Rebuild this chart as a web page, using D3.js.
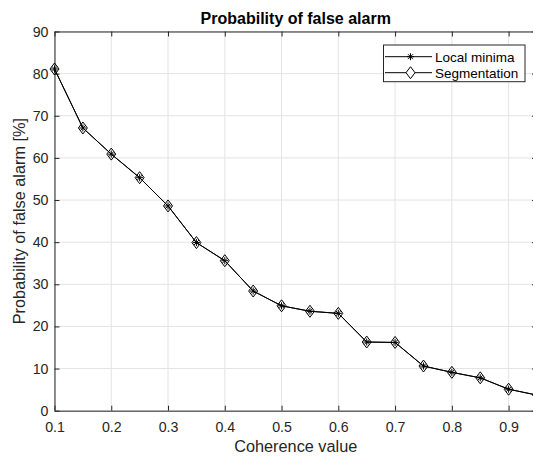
<!DOCTYPE html>
<html>
<head>
<meta charset="utf-8">
<script src="https://cdn.jsdelivr.net/npm/d3@7"></script>
<style>
  body { margin: 0; background: #fff; }
  svg { font-family: "Liberation Sans", Arial, sans-serif; }
</style>
</head>
<body>
<div id="chart"></div>
<script>
const coherence = [0.1, 0.15, 0.2, 0.25, 0.3, 0.35, 0.4, 0.45, 0.5, 0.55, 0.6, 0.65, 0.7, 0.75, 0.8, 0.85, 0.9, 0.95];
const localMinima = [81.1, 67.1, 60.9, 55.3, 48.6, 39.9, 35.6, 28.4, 24.9, 23.6, 23.1, 16.3, 16.2, 10.6, 9.1, 7.8, 5.1, 3.7];
const segmentation = [81.1, 67.1, 60.9, 55.3, 48.6, 39.9, 35.6, 28.4, 24.9, 23.6, 23.1, 16.3, 16.2, 10.6, 9.1, 7.8, 5.1, 3.7];
const xTicks = [0.1, 0.2, 0.3, 0.4, 0.5, 0.6, 0.7, 0.8, 0.9];
const yTicks = [0, 10, 20, 30, 40, 50, 60, 70, 80, 90];
const seriesNames = ["Local minima", "Segmentation"];

const width = 533, height = 457;
const margin = { top: 31.5, left: 54.5, right: -4, bottom: 46.3 };
const innerW = width - margin.left - margin.right;
const innerH = height - margin.top - margin.bottom;
const axisColor = "#262626";

const svg = d3.select("#chart").append("svg")
    .attr("width", width)
    .attr("height", height);

const g = svg.append("g")
    .attr("transform", "translate(" + margin.left + "," + margin.top + ")");

const xScale = d3.scaleLinear().domain([0.1, 0.95]).range([0, innerW]);
const yScale = d3.scaleLinear().domain([0, 90]).range([innerH, 0]);

// grid
g.append("g").selectAll("line").data(xTicks).join("line")
    .attr("x1", d => xScale(d)).attr("x2", d => xScale(d))
    .attr("y1", 0).attr("y2", innerH)
    .attr("stroke", "#e3e3e3").attr("stroke-width", 1);
g.append("g").selectAll("line").data(yTicks).join("line")
    .attr("x1", 0).attr("x2", innerW)
    .attr("y1", d => yScale(d)).attr("y2", d => yScale(d))
    .attr("stroke", "#e3e3e3").attr("stroke-width", 1);

// axes
const xAxis = g.append("g")
    .attr("transform", "translate(0," + innerH + ")")
    .call(d3.axisBottom(xScale).tickValues(xTicks).tickSizeInner(-5).tickSizeOuter(0).tickPadding(11)
        .tickFormat(d3.format(".1f")));
const xTop = g.append("g")
    .call(d3.axisTop(xScale).tickValues(xTicks).tickSizeInner(-5).tickSizeOuter(0).tickFormat(""));
const yAxis = g.append("g")
    .call(d3.axisLeft(yScale).tickValues(yTicks).tickSizeInner(-5).tickSizeOuter(0).tickPadding(6));
const yRight = g.append("g")
    .attr("transform", "translate(" + innerW + ",0)")
    .call(d3.axisRight(yScale).tickValues(yTicks).tickSizeInner(-5).tickSizeOuter(0).tickFormat(""));

[xAxis, xTop, yAxis, yRight].forEach(a => {
    a.select(".domain").attr("stroke", axisColor);
    a.selectAll(".tick line").attr("stroke", axisColor);
    a.selectAll("text").attr("fill", axisColor).style("font-size", "14.2px")
        .style("font-family", "Liberation Sans, Arial, sans-serif");
});

// lines
const line = d3.line()
    .x((d, i) => xScale(coherence[i]))
    .y(d => yScale(d));

function asterisk(sel) {
    const r = 3.5;
    sel.append("line").attr("x1", -r).attr("x2", r).attr("y1", 0).attr("y2", 0);
    sel.append("line").attr("x1", 0).attr("x2", 0).attr("y1", -r).attr("y2", r);
    sel.append("line").attr("x1", -r * 0.7).attr("x2", r * 0.7).attr("y1", -r * 0.7).attr("y2", r * 0.7);
    sel.append("line").attr("x1", -r * 0.7).attr("x2", r * 0.7).attr("y1", r * 0.7).attr("y2", -r * 0.7);
}
const diamondPath = "M0,-6L4.5,0L0,6L-4.5,0Z";

const plot = g.append("g");
[localMinima, segmentation].forEach((vals, s) => {
    plot.append("path")
        .datum(vals)
        .attr("d", line)
        .attr("fill", "none")
        .attr("stroke", "#000")
        .attr("stroke-width", 1);
    plot.append("g").selectAll("g").data(vals).join("g")
        .attr("transform", (d, i) => "translate(" + xScale(coherence[i]) + "," + yScale(d) + ")")
        .attr("stroke", "#000").attr("stroke-width", 1)
        .each(function () {
            if (s === 0) asterisk(d3.select(this));
            else d3.select(this).append("path").attr("d", diamondPath).attr("fill", "none");
        });
});

// title and labels
svg.append("text")
    .attr("x", margin.left + innerW / 2).attr("y", 24)
    .attr("text-anchor", "middle")
    .attr("fill", "#000")
    .style("font-weight", "bold").style("font-size", "16px")
    .text("Probability of false alarm");
svg.append("text")
    .attr("x", margin.left + innerW / 2).attr("y", 452)
    .attr("text-anchor", "middle")
    .attr("fill", axisColor)
    .style("font-size", "16.3px")
    .text("Coherence value");
svg.append("text")
    .attr("transform", "translate(25," + (margin.top + innerH / 2) + ") rotate(-90)")
    .attr("text-anchor", "middle")
    .attr("fill", axisColor)
    .style("font-size", "16.3px")
    .text("Probability of false alarm [%]");

// legend
const legend = svg.append("g").attr("transform", "translate(383.5,45)");
legend.append("rect")
    .attr("width", 141.5).attr("height", 36.7)
    .attr("fill", "#fff").attr("stroke", axisColor).attr("stroke-width", 1);
seriesNames.forEach((name, i) => {
    const row = legend.append("g").attr("transform", "translate(0," + (11.7 + i * 16) + ")");
    row.append("line").attr("x1", 1.5).attr("x2", 48.5).attr("y1", 0).attr("y2", 0)
        .attr("stroke", "#000").attr("stroke-width", 1);
    const m = row.append("g").attr("transform", "translate(27,0)")
        .attr("stroke", "#000").attr("stroke-width", 1);
    if (i === 0) asterisk(m);
    else m.append("path").attr("d", diamondPath).attr("fill", "#fff");
    row.append("text").attr("x", 51.5).attr("y", 5)
        .attr("fill", "#000")
        .style("font-size", "13.5px")
        .text(name);
});
</script>
</body>
</html>
